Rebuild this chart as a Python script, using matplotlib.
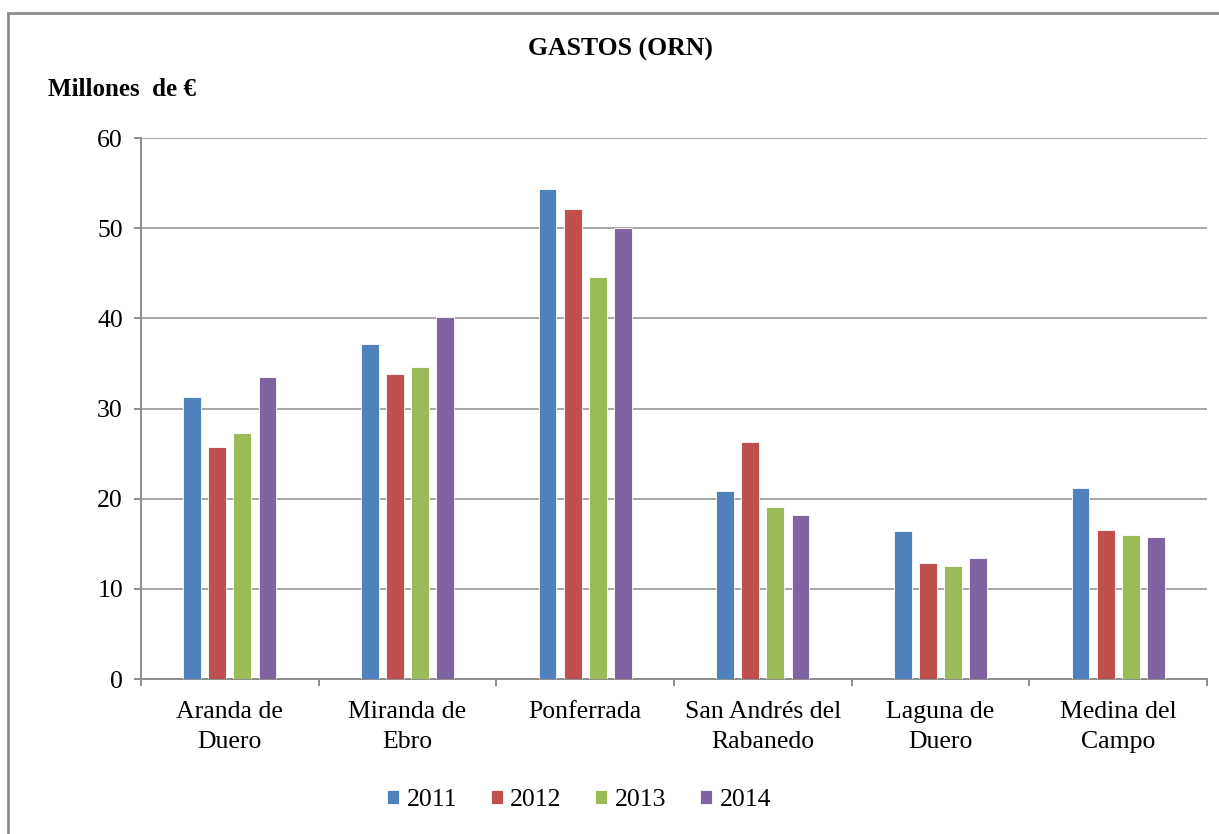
import matplotlib
matplotlib.use("Agg")
import matplotlib.pyplot as plt
import numpy as np
from matplotlib.patches import Rectangle

categories = ["Aranda de\nDuero", "Miranda de\nEbro", "Ponferrada",
              "San Andrés del\nRabanedo", "Laguna de\nDuero", "Medina del\nCampo"]
years = ["2011", "2012", "2013", "2014"]
v2011 = [31.3, 37.2, 54.3, 20.8, 16.4, 21.2]
v2012 = [25.7, 33.8, 52.1, 26.3, 12.9, 16.5]
v2013 = [27.3, 34.6, 44.6, 19.1, 12.5, 16.0]
v2014 = [33.5, 40.2, 50.0, 18.2, 13.4, 15.8]
series = [v2011, v2012, v2013, v2014]
colors = ["#4F81BD", "#C0504D", "#9BBB59", "#8064A2"]

W, H = 1219, 834
fig = plt.figure(figsize=(W / 100, H / 100), dpi=100)
plt.rcParams['font.family'] = ['Liberation Serif', 'DejaVu Serif']

# outer chart border
fig.patches.append(Rectangle((8 / W, -0.05), 1.2, (H - 13) / H + 0.05,
                             transform=fig.transFigure, fill=False,
                             edgecolor="#8c8c8c", linewidth=2.0))

left, right, top, bottom = 141, 1207, 138, 679
ax = fig.add_axes([left / W, 1 - bottom / H, (right - left) / W, (bottom - top) / H])

x = np.arange(len(categories))
pitch = 0.141
width = 0.1
for i, (vals, c, yr) in enumerate(zip(series, colors, years)):
    ax.bar(x + (i - 1.5) * pitch, vals, width=width, color=c, label=yr,
           edgecolor="white", linewidth=0.6, zorder=3)

ax.set_xlim(-0.5, len(categories) - 0.5)
ax.set_ylim(0, 60)
ax.set_yticks(range(0, 61, 10))
ax.yaxis.grid(True, color="#a6a6a6", linewidth=1.4, zorder=0)
ax.set_axisbelow(True)

fs = 18.5
ax.set_xticks(x)
ax.set_xticklabels(categories, fontsize=fs, linespacing=1.45)
ax.set_xticks(np.arange(-0.5, len(categories)), minor=True)
ax.tick_params(axis='x', which='major', length=0, pad=16)
ax.tick_params(axis='x', which='minor', length=5, color="#8c8c8c", width=1.4)
ax.tick_params(axis='y', length=5, color="#8c8c8c", width=1.4, labelsize=fs, pad=8)

for s in ["top", "right"]:
    ax.spines[s].set_visible(False)
for s in ["left", "bottom"]:
    ax.spines[s].set_color("#8c8c8c")
    ax.spines[s].set_linewidth(1.4)

fig.text(620 / W, 1 - 49 / H, "GASTOS (ORN)", ha="center", va="center",
         fontsize=18.5, fontweight="bold")
fig.text(48 / W, 1 - 90 / H, "Millones  de €", ha="left", va="center",
         fontsize=18, fontweight="bold")

leg = fig.legend(loc="center", bbox_to_anchor=(579 / W, 1 - 800 / H), ncol=4,
                 frameon=False, fontsize=fs, handlelength=0.47, handleheight=0.47,
                 handletextpad=0.3, columnspacing=1.3)

fig.savefig("out.png", dpi=100)
